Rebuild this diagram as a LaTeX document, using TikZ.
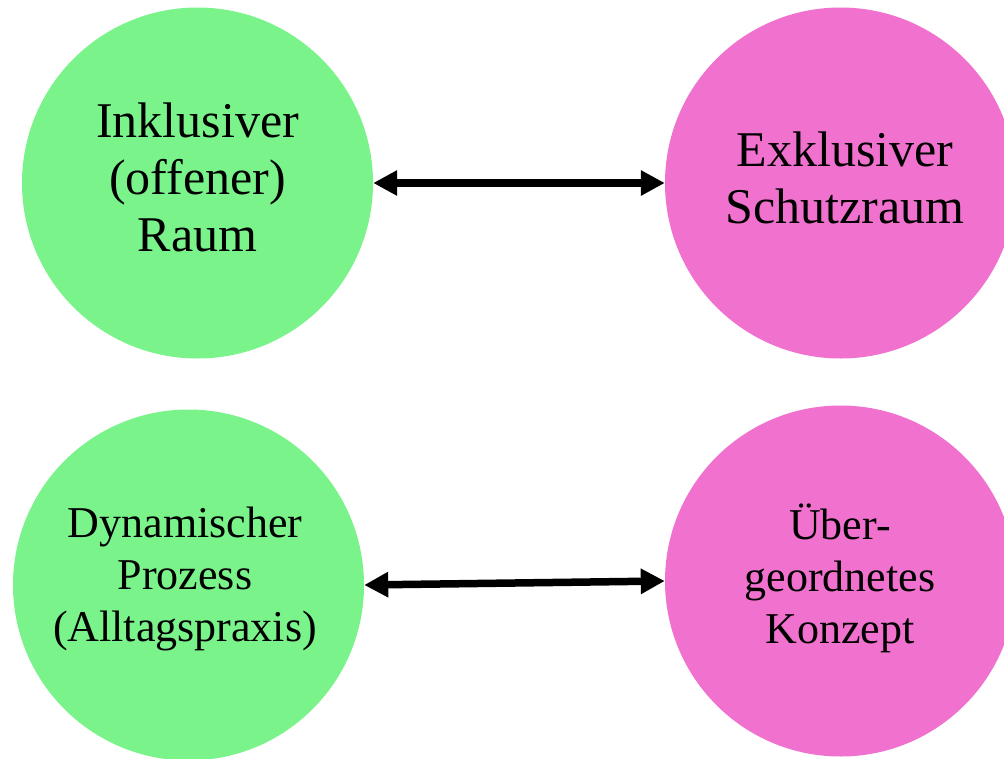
\documentclass[tikz,border=0pt]{standalone}
\usepackage{fontspec}
\setmainfont{Liberation Serif}
\usetikzlibrary{arrows.meta}
\definecolor{gfill}{RGB}{122,244,138}
\definecolor{pfill}{RGB}{240,114,206}
\tikzset{
  bubble/.style={circle, minimum size=351pt, inner sep=0pt},
  label text/.style={align=center, text=black, inner sep=0pt},
  big/.style={font=\fontsize{50}{57}\selectfont},
  small/.style={font=\fontsize{44}{52}\selectfont},
  link/.style={line width=7.5pt, {Triangle[length=24pt,width=24pt]}-{Triangle[length=24pt,width=24pt]}}
}
\begin{document}
\begin{tikzpicture}[x=1pt,y=-1pt]
\useasboundingbox (0,0) rectangle (1004,758);
\node[bubble, fill=gfill] (a) at (197.5,183) {};
\node[bubble, fill=pfill] (b) at (840.5,183) {};
\node[bubble, fill=gfill] (c) at (188.5,585) {};
\node[bubble, fill=pfill] (d) at (840.5,581) {};
\node[label text, big] (ta) at (197.5,177) {Inklusiver\\(offener)\\Raum};
\node[label text, big] (tb) at (845,178) {Exklusiver\\Schutzraum};
\node[label text, small] (tc) at (185,579) {Dynamischer\\Prozess\\(Alltagspraxis)};
\node[label text, small] (td) at (840,578) {Über-\\geordnetes\\Konzept};
\draw[link] (a.east) -- (b.west);
\draw[link] (c.east) -- (d.west);
\end{tikzpicture}
\end{document}
